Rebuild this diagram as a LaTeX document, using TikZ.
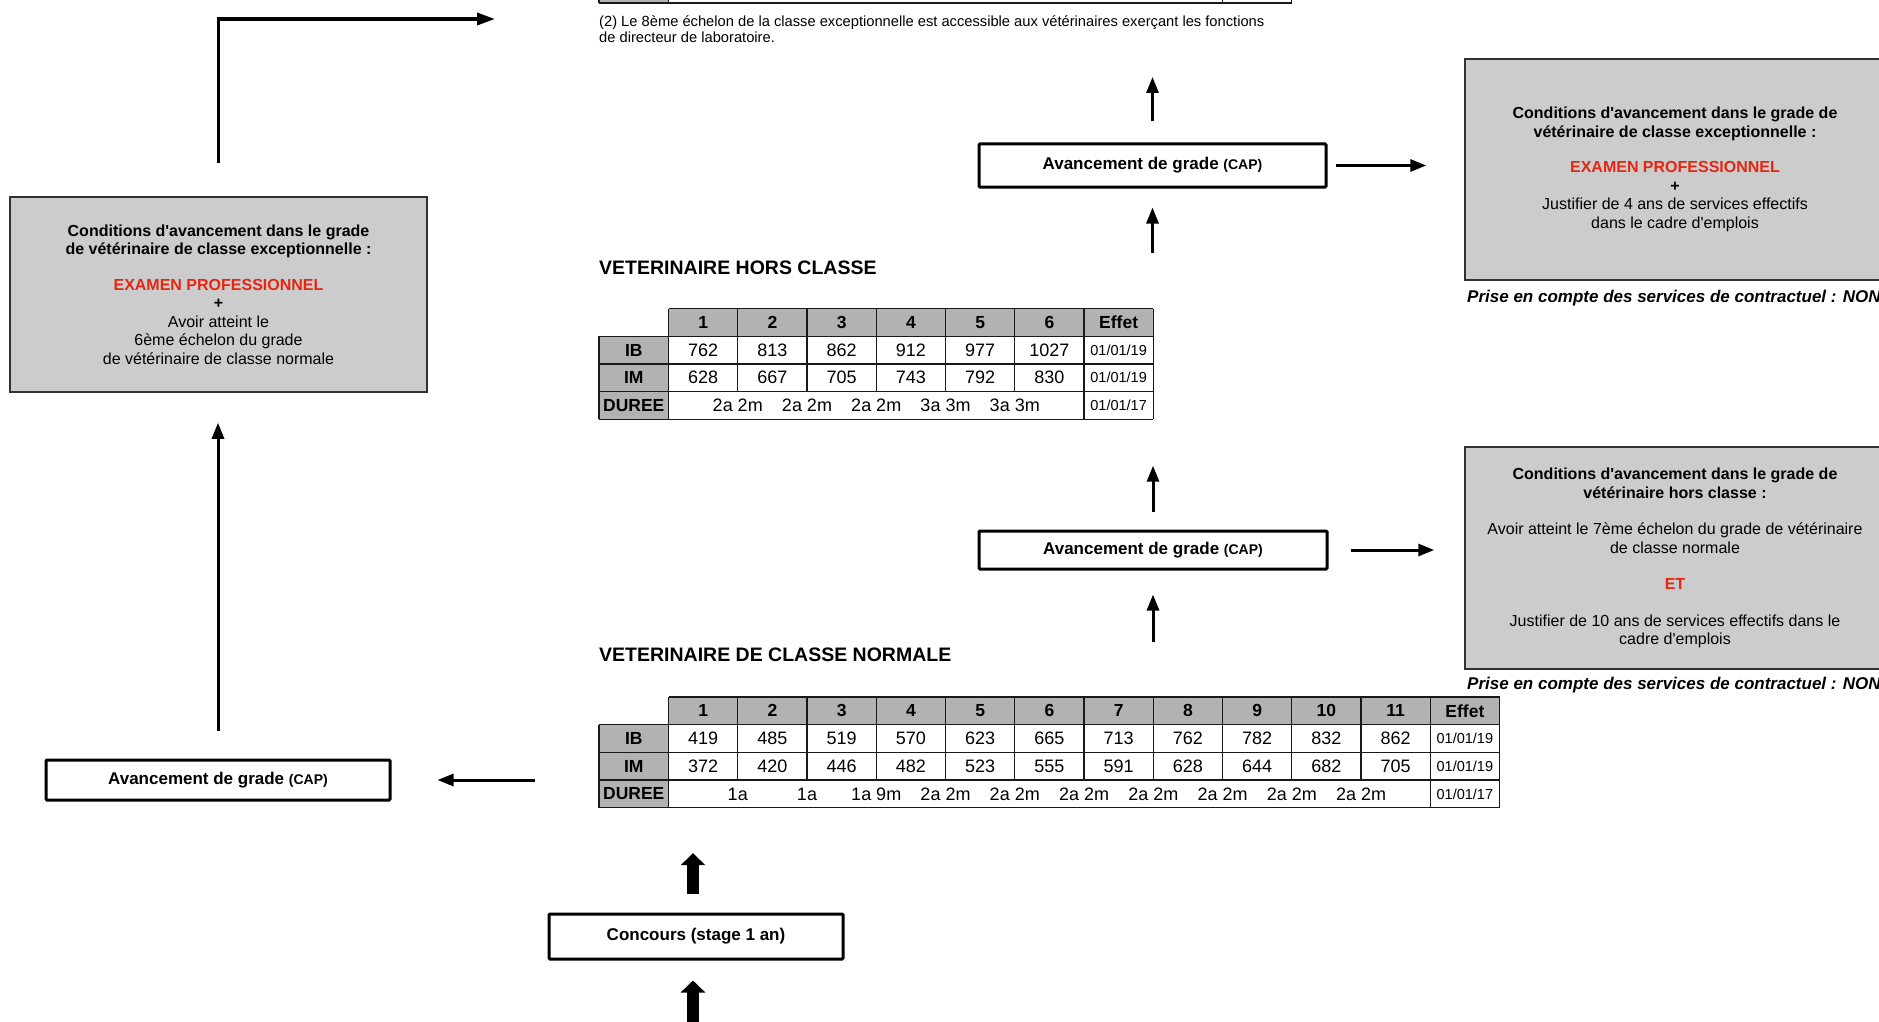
\documentclass[tikz,border=0pt]{standalone}
\usepackage{fontspec}
\setmainfont{Liberation Sans}
\usetikzlibrary{arrows.meta}
\definecolor{boxgrey}{RGB}{204,204,204}
\definecolor{hdrgrey}{RGB}{178,178,178}
\definecolor{redx}{RGB}{228,38,18}
\definecolor{borderx}{RGB}{50,50,50}
\def\tabL{599}
\def\tabCz{668.5}
\def\tabCw{69.25}
\def\tabRh{27.7}
\def\hcT{308.5}
\def\nmT{697}
\newcommand{\apo}{\textquotesingle}
\begin{document}
\begin{tikzpicture}[x=1pt,y=-1pt,
 tline/.style={line width=1.3pt, draw=black!90},
 tnum/.style={inner sep=0pt, font=\fontsize{18}{20}\selectfont},
 thead/.style={inner sep=0pt, font=\fontsize{17.5}{20}\selectfont\bfseries},
 tdate/.style={inner sep=0pt, font=\fontsize{14.5}{17}\selectfont},
 greybox/.style={draw=borderx, line width=1.5pt, fill=boxgrey, align=center, inner sep=0pt, font=\fontsize{16}{18.5}\selectfont},
 capbox/.style={draw=black, line width=3pt, fill=white, inner sep=0pt, rounded corners=1pt, font=\fontsize{17}{20}\selectfont\bfseries},
 titlex/.style={anchor=west, inner sep=0pt, font=\fontsize{19.5}{22}\selectfont\bfseries},
 prise/.style={anchor=west, inner sep=0pt, font=\fontsize{17}{20}\selectfont\bfseries\itshape},
 arr/.style={line width=3pt, -{Triangle[width=12pt,length=16pt]}},
 arrb/.style={line width=3.5pt, -{Triangle[width=12pt,length=18pt]}},
 bigarr/.style={line width=12pt, -{Triangle[width=24pt,length=12pt]}},
 area/.style={inner sep=0pt, anchor=north west}
]
\useasboundingbox (0,0) rectangle (1879,1022);
\clip (0,0) rectangle (1879,1022);

% ---------- top fragment (classe exceptionnelle table)
\fill[hdrgrey] (599,-10) rectangle (668.5,3);
\draw[tline] (599,3) -- (1291.75,3);
\foreach \xx in {599,668.5,1222.5,1291.75} \draw[tline] (\xx,-10) -- (\xx,3);
\node[anchor=north west, inner sep=0pt, align=left, font=\fontsize{14.7}{16}\selectfont] (note) at (599,15.5)
 {(2) Le 8ème échelon de la classe exceptionnelle est accessible aux vétérinaires exerçant les fonctions\\de directeur de laboratoire.};

% ---------- titles
\node[titlex] (hctitle) at (599,268) {VETERINAIRE HORS CLASSE};
\node[titlex] (nmtitle) at (599,655) {VETERINAIRE DE CLASSE NORMALE};

% ---------- table hors classe
\node[area, minimum width=554.5pt, minimum height=110.8pt] (hcT) at (\tabL,\hcT) {};
\fill[hdrgrey] (\tabCz,\hcT) rectangle ({\tabCz+7*\tabCw},{\hcT+\tabRh});
\fill[hdrgrey] (\tabL,{\hcT+\tabRh}) rectangle (\tabCz,{\hcT+4*\tabRh});
\draw[tline] (\tabCz,\hcT) -- ({\tabCz+7*\tabCw},\hcT);
\foreach \r in {1,2,3,4} \draw[tline] (\tabL,{\hcT+\r*\tabRh}) -- ({\tabCz+7*\tabCw},{\hcT+\r*\tabRh});
\draw[tline] (\tabL,{\hcT+\tabRh}) -- (\tabL,{\hcT+4*\tabRh});
\foreach \k in {0,6,7} \draw[tline] ({\tabCz+\k*\tabCw},\hcT) -- ({\tabCz+\k*\tabCw},{\hcT+4*\tabRh});
\foreach \k in {1,...,5} \draw[tline] ({\tabCz+\k*\tabCw},\hcT) -- ({\tabCz+\k*\tabCw},{\hcT+3*\tabRh});
\foreach \i in {1,...,6} \node[thead] (hch\i) at ({\tabCz+(\i-0.5)*\tabCw},{\hcT+0.5*\tabRh}) {\i};
\node[thead] (hchE) at ({\tabCz+6.5*\tabCw},{\hcT+0.5*\tabRh}) {Effet};
\node[thead] (hcIB) at ({(\tabL+\tabCz)/2},{\hcT+1.5*\tabRh}) {IB};
\node[thead] (hcIM) at ({(\tabL+\tabCz)/2},{\hcT+2.5*\tabRh}) {IM};
\node[thead] (hcDU) at ({(\tabL+\tabCz)/2},{\hcT+3.5*\tabRh}) {DUREE};
\foreach \v [count=\i] in {762,813,862,912,977,1027} \node[tnum] (hcib\i) at ({\tabCz+(\i-0.5)*\tabCw},{\hcT+1.5*\tabRh}) {\v};
\foreach \v [count=\i] in {628,667,705,743,792,830} \node[tnum] (hcim\i) at ({\tabCz+(\i-0.5)*\tabCw},{\hcT+2.5*\tabRh}) {\v};
\foreach \v [count=\i] in {2a 2m,2a 2m,2a 2m,3a 3m,3a 3m} \node[tnum] (hcd\i) at ({\tabCz+\i*\tabCw},{\hcT+3.5*\tabRh}) {\v};
\node[tdate] (hce1) at ({\tabCz+6.5*\tabCw},{\hcT+1.5*\tabRh}) {01/01/19};
\node[tdate] (hce2) at ({\tabCz+6.5*\tabCw},{\hcT+2.5*\tabRh}) {01/01/19};
\node[tdate] (hce3) at ({\tabCz+6.5*\tabCw},{\hcT+3.5*\tabRh}) {01/01/17};

% ---------- table classe normale
\node[area, minimum width=900.5pt, minimum height=110.8pt] (nT) at (\tabL,\nmT) {};
\fill[hdrgrey] (\tabCz,\nmT) rectangle ({\tabCz+12*\tabCw},{\nmT+\tabRh});
\fill[hdrgrey] (\tabL,{\nmT+\tabRh}) rectangle (\tabCz,{\nmT+4*\tabRh});
\draw[tline] (\tabCz,\nmT) -- ({\tabCz+12*\tabCw},\nmT);
\foreach \r in {1,2,3,4} \draw[tline] (\tabL,{\nmT+\r*\tabRh}) -- ({\tabCz+12*\tabCw},{\nmT+\r*\tabRh});
\draw[tline] (\tabL,{\nmT+\tabRh}) -- (\tabL,{\nmT+4*\tabRh});
\foreach \k in {0,11,12} \draw[tline] ({\tabCz+\k*\tabCw},\nmT) -- ({\tabCz+\k*\tabCw},{\nmT+4*\tabRh});
\foreach \k in {1,...,10} \draw[tline] ({\tabCz+\k*\tabCw},\nmT) -- ({\tabCz+\k*\tabCw},{\nmT+3*\tabRh});
\foreach \i in {1,...,11} \node[thead] (nmh\i) at ({\tabCz+(\i-0.5)*\tabCw},{\nmT+0.5*\tabRh}) {\i};
\node[thead] (nmhE) at ({\tabCz+11.5*\tabCw},{\nmT+0.5*\tabRh}) {Effet};
\node[thead] (nmIB) at ({(\tabL+\tabCz)/2},{\nmT+1.5*\tabRh}) {IB};
\node[thead] (nmIM) at ({(\tabL+\tabCz)/2},{\nmT+2.5*\tabRh}) {IM};
\node[thead] (nmDU) at ({(\tabL+\tabCz)/2},{\nmT+3.5*\tabRh}) {DUREE};
\foreach \v [count=\i] in {419,485,519,570,623,665,713,762,782,832,862} \node[tnum] (nmib\i) at ({\tabCz+(\i-0.5)*\tabCw},{\nmT+1.5*\tabRh}) {\v};
\foreach \v [count=\i] in {372,420,446,482,523,555,591,628,644,682,705} \node[tnum] (nmim\i) at ({\tabCz+(\i-0.5)*\tabCw},{\nmT+2.5*\tabRh}) {\v};
\foreach \v [count=\i] in {1a,1a,1a 9m,2a 2m,2a 2m,2a 2m,2a 2m,2a 2m,2a 2m,2a 2m} \node[tnum] (nmd\i) at ({\tabCz+\i*\tabCw},{\nmT+3.5*\tabRh}) {\v};
\node[tdate] (nme1) at ({\tabCz+11.5*\tabCw},{\nmT+1.5*\tabRh}) {01/01/19};
\node[tdate] (nme2) at ({\tabCz+11.5*\tabCw},{\nmT+2.5*\tabRh}) {01/01/19};
\node[tdate] (nme3) at ({\tabCz+11.5*\tabCw},{\nmT+3.5*\tabRh}) {01/01/17};

% ---------- grey condition boxes
\node[greybox, minimum width=420pt, minimum height=221pt] (box1) at (1675,169.5)
 {{\bfseries Conditions d\apo avancement dans le grade de}\\{\bfseries vétérinaire de classe exceptionnelle :}\\[17pt]
  {\bfseries\color{redx}EXAMEN PROFESSIONNEL}\\{\bfseries +}\\
  Justifier de 4 ans de services effectifs\\dans le cadre d\apo emplois};
\node[greybox, minimum width=420pt, minimum height=222pt] (box2) at (1675,558)
 {{\bfseries Conditions d\apo avancement dans le grade de}\\{\bfseries vétérinaire hors classe :}\\[18pt]
  Avoir atteint le 7ème échelon du grade de vétérinaire\\de classe normale\\[18pt]
  {\bfseries\color{redx}ET}\\[18pt]
  Justifier de 10 ans de services effectifs dans le\\cadre d\apo emplois};
\node[greybox, minimum width=417pt, minimum height=195pt] (box3) at (218.5,294.5)
 {{\bfseries Conditions d\apo avancement dans le grade}\\{\bfseries de vétérinaire de classe exceptionnelle :}\\[17pt]
  {\bfseries\color{redx}EXAMEN PROFESSIONNEL}\\{\bfseries +}\\
  Avoir atteint le\\6ème échelon du grade\\de vétérinaire de classe normale};

\node[prise] (prise1) at (1467,298) {Prise en compte des services de contractuel : NON};
\node[prise] (prise2) at (1467,685) {Prise en compte des services de contractuel : NON};

% ---------- process boxes
\node[capbox, minimum width=347pt, minimum height=43pt] (capTop) at (1152.5,165.5)
 {Avancement de grade {\fontsize{14}{16}\selectfont (CAP)}};
\node[capbox, minimum width=348pt, minimum height=38pt] (capHC) at (1153,550)
 {Avancement de grade {\fontsize{14}{16}\selectfont (CAP)}};
\node[capbox, minimum width=344pt, minimum height=40pt] (capL) at (218,780)
 {Avancement de grade {\fontsize{14}{16}\selectfont (CAP)}};
\node[capbox, minimum width=294pt, minimum height=45pt] (conc) at (696,936.5)
 {Concours (stage 1 an)};

% ---------- connectors
\coordinate (exTop) at (1152.5,77);
\coordinate (exLeft) at (495,19);
\coordinate (recr) at (693,1040);

\draw[arr, shorten <=21pt] (capTop.north) -- (exTop);
\draw[arr, shorten <=56pt, shorten >=19pt] (capTop.south |- hcT.north) -- (capTop.south);
\draw[arr, shorten <=8pt, shorten >=38pt] (capTop.east) -- (capTop.east -| box1.west);
\draw[arr, shorten <=18pt, shorten >=46pt] (capHC.north) -- (capHC.north |- hcT.south);
\draw[arr, shorten <=55pt, shorten >=24pt] (capHC.south |- nT.north) -- (capHC.south);
\draw[arr, shorten <=22pt, shorten >=30pt] (capHC.east) -- (capHC.east -| box2.west);
\draw[arr, shorten <=64pt, shorten >=46pt] (capL.east -| nT.west) -- (capL.east);
\draw[arr, shorten <=28pt, shorten >=30pt] (capL.north) -- (capL.north |- box3.south);
\draw[arrb, shorten <=33pt] (box3.north) |- (exLeft);
\draw[bigarr, shorten <=19pt, shorten >=45pt] (recr |- conc.north) -- (recr |- nT.south);
\draw[bigarr, shorten >=20pt] (recr) -- (recr |- conc.south);
\end{tikzpicture}
\end{document}
